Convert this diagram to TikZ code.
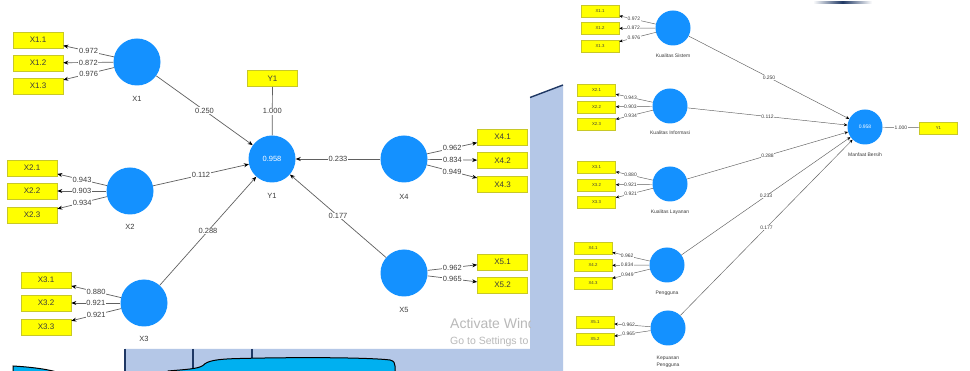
\documentclass[tikz,border=0pt]{standalone}
\usepackage{fontspec}
\setmainfont{Liberation Sans}
\usetikzlibrary{arrows.meta}
\definecolor{plsblue}{RGB}{20,145,255}
\definecolor{plsyellow}{RGB}{255,255,0}
\definecolor{boxedge}{RGB}{200,200,40}
\definecolor{bgblue}{RGB}{180,199,231}
\definecolor{navy}{RGB}{31,56,100}
\definecolor{cyanshape}{RGB}{0,176,240}
\definecolor{txt}{RGB}{60,60,60}
\begin{document}
\begin{tikzpicture}[x=1pt,y=-1pt,
 lat/.style={circle,fill=plsblue,minimum size=47pt,inner sep=0pt,font=\fontsize{7.5}{8}\selectfont,text=white},
 latS/.style={circle,fill=plsblue,minimum size=35pt,inner sep=0pt,font=\fontsize{5}{6}\selectfont,text=white},
 ind/.style={rectangle,fill=plsyellow,draw=boxedge,line width=0.6pt,minimum width=50pt,minimum height=16pt,inner sep=0pt,font=\fontsize{8}{9}\selectfont,text=txt},
 indS/.style={rectangle,fill=plsyellow,draw=boxedge,line width=0.5pt,minimum width=38pt,minimum height=12pt,inner sep=0pt,font=\fontsize{4.3}{5}\selectfont,text=txt},
 lbl/.style={fill=white,inner sep=0.8pt,font=\fontsize{7.5}{8}\selectfont,text=txt},
 lblS/.style={fill=white,inner sep=0.4pt,font=\fontsize{5}{6}\selectfont,text=txt},
 latname/.style={font=\fontsize{7.5}{8}\selectfont,text=txt,inner sep=0pt},
 latnameS/.style={font=\fontsize{5}{7.5}\selectfont,text=txt,align=center,inner sep=0pt},
 pathln/.style={draw=gray!75!black,line width=0.7pt,-{Stealth[length=5pt,width=4pt,color=black]}},
 pathlnS/.style={draw=gray!75!black,line width=0.45pt,-{Stealth[length=3.5pt,width=3pt,color=black]}},
 plainln/.style={draw=gray!75!black,line width=0.7pt},
 plainlnS/.style={draw=gray!75!black,line width=0.45pt},
]
% ---------- background ----------
\useasboundingbox (0,0) rectangle (970,371);
\fill[white] (0,0) rectangle (970,371);
\fill[bgblue] (530,97.5) -- (563,85) -- (563,371) -- (125,371) -- (125,349) -- (530,349) -- cycle;
\draw[navy,line width=1.4pt] (530,97.5) -- (563,85);
\draw[navy,line width=1.2pt] (125,349) -- (125,372);
\draw[navy,line width=1.2pt] (193,349) -- (193,372);
\draw[navy,line width=1.2pt] (252,349) -- (252,360);
\filldraw[fill=cyanshape,draw=black,line width=1pt] (168,372) -- (168,371) .. controls (185,369.5) and (198,369) .. (203,365.5) .. controls (207,361) and (215,359) .. (240,358.5) .. controls (300,357) and (370,357.5) .. (390,360) .. controls (394,361) and (395,363) .. (395,366) -- (395,373) -- cycle;
\filldraw[fill=cyanshape,draw=black,line width=1pt] (13,373) -- (13,366) .. controls (30,367) and (48,369) .. (60,373) -- cycle;
\shade[left color=white,right color=white,middle color=navy] (813,1.8) rectangle (872,3.4);
\begin{scope}
\clip (440,310) rectangle (530,349);
\node[anchor=base west,text=gray!55,font=\fontsize{14}{15}\selectfont,inner sep=0pt] (act1) at (450,329) {Activate Windows};
\node[anchor=base west,text=gray!55,font=\fontsize{10.5}{11}\selectfont,inner sep=0pt] (act2) at (450,345) {Go to Settings to activate Windows.};
\end{scope}
% ---------- left model ----------
\node[lat] (X1) at (137,62) {};
\node[lat] (X2) at (130,191) {};
\node[lat] (X3) at (144,303) {};
\node[lat] (X4) at (404,159) {};
\node[lat] (X5) at (404,273) {};
\node[lat] (Y1) at (272,159) {0.958};
\node[latname] (X1n) at (137,99) {X1};
\node[latname] (X2n) at (130,227) {X2};
\node[latname] (X3n) at (144,339) {X3};
\node[latname] (X4n) at (404,197) {X4};
\node[latname] (X5n) at (404,310) {X5};
\node[latname] (Y1n) at (272,196) {Y1};
\node[ind] (X11) at (38,40) {X1.1};
\node[ind] (X12) at (38,63) {X1.2};
\node[ind] (X13) at (38,86) {X1.3};
\node[ind] (X21) at (32,168) {X2.1};
\node[ind] (X22) at (32,191) {X2.2};
\node[ind] (X23) at (32,215) {X2.3};
\node[ind] (X31) at (46,280) {X3.1};
\node[ind] (X32) at (46,303) {X3.2};
\node[ind] (X33) at (46,327) {X3.3};
\node[ind] (X41) at (502.5,137) {X4.1};
\node[ind] (X42) at (502.5,160.5) {X4.2};
\node[ind] (X43) at (502.5,184.5) {X4.3};
\node[ind] (X51) at (502.5,262) {X5.1};
\node[ind] (X52) at (502.5,285) {X5.2};
\node[ind] (Y1i) at (272.5,78.5) {Y1};
\draw[pathln] (X1) -- node[lbl]{0.972} (X11);
\draw[pathln] (X1) -- node[lbl]{0.872} (X12);
\draw[pathln] (X1) -- node[lbl]{0.976} (X13);
\draw[pathln] (X2) -- node[lbl]{0.943} (X21);
\draw[pathln] (X2) -- node[lbl]{0.903} (X22);
\draw[pathln] (X2) -- node[lbl]{0.934} (X23);
\draw[pathln] (X3) -- node[lbl]{0.880} (X31);
\draw[pathln] (X3) -- node[lbl]{0.921} (X32);
\draw[pathln] (X3) -- node[lbl]{0.921} (X33);
\draw[pathln] (X4) -- node[lbl]{0.962} (X41);
\draw[pathln] (X4) -- node[lbl]{0.834} (X42);
\draw[pathln] (X4) -- node[lbl]{0.949} (X43);
\draw[pathln] (X5) -- node[lbl]{0.962} (X51);
\draw[pathln] (X5) -- node[lbl]{0.965} (X52);
\draw[plainln] (Y1i) -- node[lbl]{1.000} (Y1);
\draw[pathln] (X1) -- node[lbl]{0.250} (Y1);
\draw[pathln] (X2) -- node[lbl]{0.112} (Y1);
\draw[pathln] (X3) -- node[lbl]{0.288} (Y1);
\draw[pathln] (X4) -- node[lbl]{0.233} (Y1);
\draw[pathln] (X5) -- node[lbl]{0.177} (Y1);
% ---------- right model ----------
\node[latS] (RS) at (673,28) {};
\node[latS] (RI) at (670,106) {};
\node[latS] (RL) at (670,184) {};
\node[latS] (RP) at (667,265) {};
\node[latS] (RK) at (668,328) {};
\node[latS] (RM) at (865,127) {0.958};
\node[latnameS] (RSn) at (673,56) {Kualitas Sistem};
\node[latnameS] (RIn) at (670,133) {Kualitas Informasi};
\node[latnameS] (RLn) at (670,212) {Kualitas Layanan};
\node[latnameS] (RPn) at (667,293) {Pengguna};
\node[latnameS] (RKn) at (668,362) {Kepuasan\\Pengguna};
\node[latnameS] (RMn) at (865,155) {Manfaat Bersih};
\node[indS] (R11) at (600,11.5) {X1.1};
\node[indS] (R12) at (600,28.5) {X1.2};
\node[indS] (R13) at (600,46.5) {X1.3};
\node[indS] (R21) at (596.5,90) {X2.1};
\node[indS] (R22) at (596.5,107) {X2.2};
\node[indS] (R23) at (596.5,124) {X2.3};
\node[indS] (R31) at (596.5,167.5) {X3.1};
\node[indS] (R32) at (596.5,185) {X3.2};
\node[indS] (R33) at (596.5,202.5) {X3.3};
\node[indS] (R41) at (593,248) {X4.1};
\node[indS] (R42) at (593,265.5) {X4.2};
\node[indS] (R43) at (593,283) {X4.3};
\node[indS] (R51) at (595,322.5) {X5.1};
\node[indS] (R52) at (595,339) {X5.2};
\node[indS] (RY) at (938.5,128) {Y1};
\draw[pathlnS] (RS) -- node[lblS,pos=0.6]{0.972} (R11);
\draw[pathlnS] (RS) -- node[lblS,pos=0.6]{0.872} (R12);
\draw[pathlnS] (RS) -- node[lblS,pos=0.6]{0.976} (R13);
\draw[pathlnS] (RI) -- node[lblS,pos=0.6]{0.943} (R21);
\draw[pathlnS] (RI) -- node[lblS,pos=0.6]{0.903} (R22);
\draw[pathlnS] (RI) -- node[lblS,pos=0.6]{0.934} (R23);
\draw[pathlnS] (RL) -- node[lblS,pos=0.6]{0.880} (R31);
\draw[pathlnS] (RL) -- node[lblS,pos=0.6]{0.921} (R32);
\draw[pathlnS] (RL) -- node[lblS,pos=0.6]{0.921} (R33);
\draw[pathlnS] (RP) -- node[lblS,pos=0.6]{0.962} (R41);
\draw[pathlnS] (RP) -- node[lblS,pos=0.6]{0.834} (R42);
\draw[pathlnS] (RP) -- node[lblS,pos=0.6]{0.949} (R43);
\draw[pathlnS] (RK) -- node[lblS,pos=0.6]{0.962} (R51);
\draw[pathlnS] (RK) -- node[lblS,pos=0.6]{0.965} (R52);
\draw[plainlnS] (RM) -- node[lblS]{1.000} (RY);
\draw[pathlnS] (RS) -- node[lblS]{0.250} (RM);
\draw[pathlnS] (RI) -- node[lblS]{0.112} (RM);
\draw[pathlnS] (RL) -- node[lblS]{0.288} (RM);
\draw[pathlnS] (RP) -- node[lblS]{0.233} (RM);
\draw[pathlnS] (RK) -- node[lblS]{0.177} (RM);
\end{tikzpicture}
\end{document}
